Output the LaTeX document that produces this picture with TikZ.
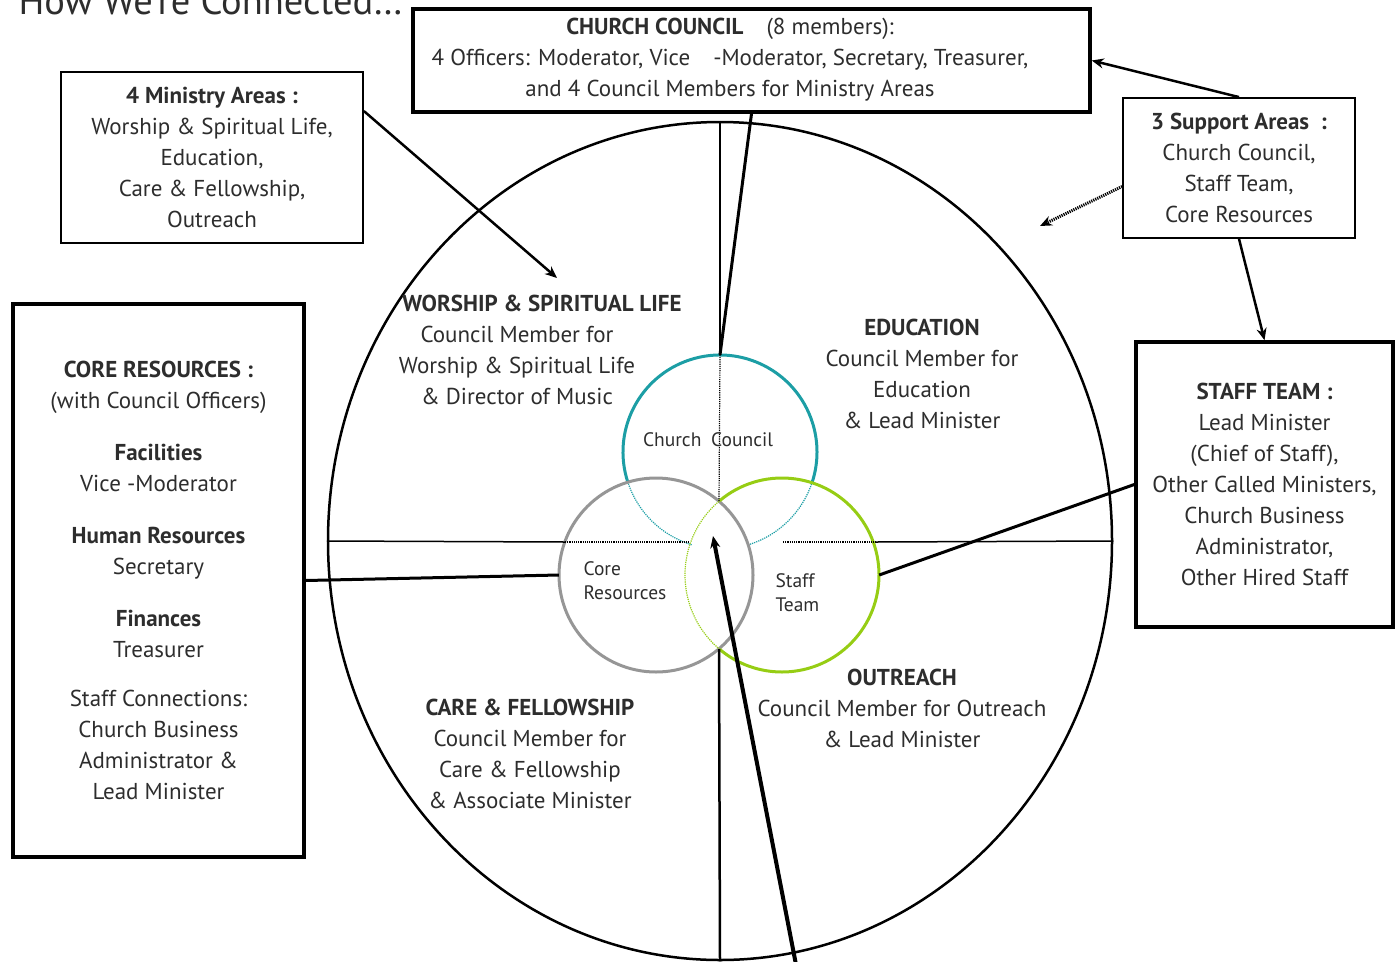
\documentclass[tikz,border=0pt]{standalone}
\usepackage{fontspec}
\setmainfont{PT Sans}
\usetikzlibrary{arrows.meta,shapes.geometric}
\definecolor{ccteal}{RGB}{28,158,165}
\definecolor{stgreen}{RGB}{150,205,20}
\definecolor{crgray}{RGB}{150,150,150}
\definecolor{txtgray}{RGB}{45,45,45}

\begin{document}
\begin{tikzpicture}[x=1pt, y=-1pt,
  thinbox/.style = {draw, line width=1.8pt, inner sep=0pt},
  thickbox/.style = {draw, line width=3.5pt, inner sep=0pt},
  txt/.style = {text=txtgray, align=center, font=\fontsize{23}{31}\selectfont},
  small/.style = {text=txtgray, align=left, font=\fontsize{19.5}{24}\selectfont},
  ring/.style = {circle, minimum size=194pt, inner sep=0pt},
  link/.style = {line width=3pt},
  arr/.style = {line width=2.5pt, -{Stealth[length=12pt,width=10pt]}}]

        \useasboundingbox (0,0) rectangle (1396,961);
        \clip (0,0) rectangle (1396,961);

        \node[anchor=base west, text=txtgray, font=\fontsize{38.5}{44}\selectfont] (title) at (15,14) {How We’re Connected…};

        % boxes
        \node[thickbox, minimum width=677pt, minimum height=103pt] (council) at (751.5,60.5) {};
        \node[txt] (councilText) at (730,60) {\textbf{CHURCH COUNCIL}\quad(8 members):\\4 Officers: Moderator, Vice\quad-Moderator, Secretary, Treasurer,\\and 4 Council Members for Ministry Areas};
        \node[thinbox, txt, minimum width=302pt, minimum height=171pt] (mini) at (212,157.5) {\textbf{4 Ministry Areas :}\\Worship \& Spiritual Life,\\Education,\\Care \& Fellowship,\\Outreach};
        \node[thinbox, txt, minimum width=232pt, minimum height=140pt] (supp) at (1239,168) {\textbf{3 Support Areas\enspace:}\\Church Council,\\Staff Team,\\Core Resources};
        \node[thickbox, txt, minimum width=291pt, minimum height=553pt] (core) at (158.5,580.5) {\textbf{CORE RESOURCES :}\\(with Council Officers)\\[21pt]\textbf{Facilities}\\Vice -Moderator\\[21pt]\textbf{Human Resources}\\Secretary\\[21pt]\textbf{Finances}\\Treasurer\\[18pt]Staff Connections:\\Church Business\\Administrator \&\\Lead Minister};
        \node[thickbox, txt, minimum width=257pt, minimum height=285pt] (staff) at (1264.5,484.5) {\textbf{STAFF TEAM :}\\Lead Minister\\(Chief of Staff),\\Other Called Ministers,\\Church Business\\Administrator,\\Other Hired Staff};

        % big circle and the three rings
        \node[draw, ellipse, line width=2.5pt, minimum width=784pt, minimum height=838pt, inner sep=0pt] (outer) at (720,541) {};
        \node[ring] (cc) at (720,452) {};
        \node[ring] (cr) at (656,575) {};
        \node[ring] (st) at (782,575) {};

        \coordinate (lensTop) at (719,501);
        \coordinate (lensBot) at (719,649);
        \coordinate (hW) at (565,542);
        \coordinate (hL) at (690,542);
        \coordinate (hR) at (783,542);
        \coordinate (hE) at (876,542);
        \coordinate (hub) at (713,536);
        \coordinate (tail) at (798,975);
        \coordinate (wsTip) at (557,278);
        \coordinate (spread) at (1040,226);

        \draw[ccteal, line width=3pt] (cc.center) ++(162:97) arc[start angle=162, end angle=378, radius=97];
        \draw[ccteal, line width=1.2pt, densely dotted] (cc.center) ++(18:97) arc[start angle=18, end angle=73, radius=97];
        \draw[ccteal, line width=1.2pt, densely dotted] (cc.center) ++(107:97) arc[start angle=107, end angle=162, radius=97];
        \draw[crgray, line width=3pt] (cr.center) circle[radius=97];
        \draw[stgreen, line width=3pt] (st.center) ++(-130:97) arc[start angle=-130, end angle=130, radius=97];
        \draw[stgreen, line width=1.2pt, densely dotted] (st.center) ++(130:97) arc[start angle=130, end angle=230, radius=97];

        % cross lines
        \draw[line width=2.5pt] (outer.north) -- (cc.north);
        \draw[line width=1.2pt, densely dotted] (cc.north) -- (lensTop);
        \draw[line width=2.5pt] (lensBot) -- (outer.south);
        \draw[line width=1.5pt] (outer.west) -- (hW);
        \draw[line width=1.2pt, densely dotted] (hW) -- (hL);
        \draw[line width=1.2pt, densely dotted] (hR) -- (hE);
        \draw[line width=1.5pt] (hE) -- (outer.east);

        % texts in the circle
        \node[txt] (worshipHead) at (542,303) {\textbf{WORSHIP \& SPIRITUAL LIFE}};
        \node[txt] (worship) at (517,365) {Council Member for\\Worship \& Spiritual Life\\\& Director of Music};
        \node[txt] (edu) at (922,374) {\textbf{EDUCATION}\\Council Member for\\Education\\\& Lead Minister};
        \node[txt] (out) at (902,708) {\textbf{OUTREACH}\\Council Member for Outreach\\\& Lead Minister};
        \node[txt] (care) at (530,754) {\textbf{CARE \& FELLOWSHIP}\\Council Member for\\Care \& Fellowship\\\& Associate Minister};
        \node[small] (ccLabel) at (708,440) {Church\enspace Council};
        \node[small, anchor=west] (crLabel) at (580,581) {Core\\Resources};
        \node[small, anchor=west] (stLabel) at (772,593) {Staff\\Team};

        % connectors
        \draw[link] (council.south) -- (cc.north);
        \draw[arr] (mini.17) -- (wsTip);
        \draw[arr] (supp.north) -- (council.east);
        \draw[arr, line width=3pt, dash pattern=on 1.2pt off 1pt] (supp.189) -- (spread);
        \draw[arr] (supp.south) -- (staff.north);
        \draw[link] (staff.west) -- (st.east);
        \draw[link] (core.east) -- (cr.west);
        \draw[arr, line width=4pt] (tail) -- (hub);

\end{tikzpicture}
\end{document}
